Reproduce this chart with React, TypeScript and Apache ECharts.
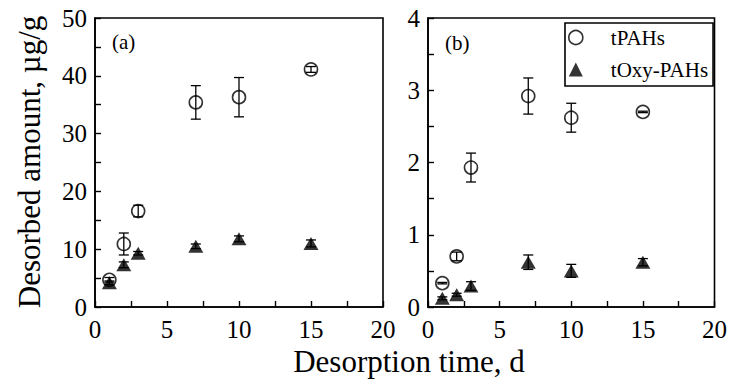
import React, { useEffect, useRef } from "react";
import * as echarts from "echarts";

const days = [1, 2, 3, 7, 10, 15];
const tPAHsA = [4.7, 10.9, 16.6, 35.4, 36.3, 41.1];
const tPAHsAErr = [0.4, 1.9, 1.0, 2.9, 3.4, 0.5];
const tOxyA = [4.2, 7.3, 9.3, 10.5, 11.8, 11.0];
const tOxyAErr = [0.3, 0.5, 0.3, 0.4, 0.5, 0.6];
const tPAHsB = [0.33, 0.7, 1.93, 2.92, 2.62, 2.7];
const tPAHsBErr = [0.01, 0.06, 0.2, 0.25, 0.2, 0.01];
const tOxyB = [0.12, 0.17, 0.29, 0.62, 0.5, 0.62];
const tOxyBErr = [0.02, 0.02, 0.06, 0.1, 0.09, 0.05];

const FONT = "Liberation Serif";

function pts(vals: number[]) {
  return days.map((d, i) => [d, vals[i]]);
}
function errs(vals: number[], e: number[]) {
  return days.map((d, i) => [d, vals[i] - e[i], vals[i] + e[i]]);
}

function errSeries(data: number[][], idx: number) {
  return {
    type: "custom",
    xAxisIndex: idx,
    yAxisIndex: idx,
    data,
    z: 1,
    encode: { x: 0, y: [1, 2] },
    renderItem: (_p: any, api: any) => {
      const x = api.value(0);
      const top = api.coord([x, api.value(2)]);
      const bot = api.coord([x, api.value(1)]);
      const w = 5;
      const st = { stroke: "#000", lineWidth: 1.3 };
      return {
        type: "group",
        children: [
          { type: "line", shape: { x1: top[0], y1: top[1], x2: bot[0], y2: bot[1] }, style: st },
          { type: "line", shape: { x1: top[0] - w, y1: top[1], x2: top[0] + w, y2: top[1] }, style: st },
          { type: "line", shape: { x1: bot[0] - w, y1: bot[1], x2: bot[0] + w, y2: bot[1] }, style: st },
        ],
      };
    },
  };
}

export default function App() {
  const ref = useRef<HTMLDivElement>(null);
  useEffect(() => {
    document.body.style.margin = "0";
    const chart = echarts.init(ref.current!, null, { renderer: "svg" });
    const axisLine = { lineStyle: { color: "#000", width: 1.6 } };
    const axisTick = { inside: true, length: 6, lineStyle: { color: "#000", width: 1.4 } };
    const labelStyle = { color: "#000", fontFamily: FONT, fontSize: 25 };
    const xAxis = (gi: number) => ({
      type: "value",
      gridIndex: gi,
      min: 0,
      max: 20,
      interval: 2.5,
      axisLine,
      axisTick,
      splitLine: { show: false },
      axisLabel: {
        ...labelStyle,
        margin: 10,
        formatter: (v: number) => (v % 5 === 0 ? String(v) : ""),
      },
    });
    const circleStyle = { color: "rgba(0,0,0,0)", borderColor: "#000", borderWidth: 1.6 };
    const triStyle = { color: "#000" };
    const scatter = (name: string, data: number[][], idx: number, tri: boolean) => ({
      type: "scatter",
      name,
      xAxisIndex: idx,
      yAxisIndex: idx,
      data,
      z: 3,
      symbol: tri ? "triangle" : "circle",
      symbolSize: tri ? [15, 13] : 13,
      itemStyle: tri ? triStyle : circleStyle,
    });
    chart.setOption({
      animation: false,
      backgroundColor: "#fff",
      textStyle: { fontFamily: FONT },
      grid: [
        { left: 95, top: 18, width: 288, height: 289, show: true, borderColor: "#000", borderWidth: 1.6 },
        { left: 428, top: 18, width: 287, height: 289, show: true, borderColor: "#000", borderWidth: 1.6 },
      ],
      xAxis: [xAxis(0), xAxis(1)],
      yAxis: [
        {
          type: "value",
          gridIndex: 0,
          min: 0,
          max: 50,
          interval: 5,
          axisLine,
          axisTick,
          splitLine: { show: false },
          axisLabel: { ...labelStyle, margin: 8, formatter: (v: number) => (v % 10 === 0 ? String(v) : "") },
        },
        {
          type: "value",
          gridIndex: 1,
          min: 0,
          max: 4,
          interval: 0.5,
          axisLine,
          axisTick,
          splitLine: { show: false },
          axisLabel: { ...labelStyle, margin: 8, formatter: (v: number) => (v % 1 === 0 ? String(v) : "") },
        },
      ],
      legend: {
        orient: "vertical",
        left: 565,
        top: 23,
        padding: [4, 5, 6, 3],
        itemWidth: 14,
        itemHeight: 14,
        itemGap: 11,
        backgroundColor: "#fff",
        borderColor: "#000",
        borderWidth: 1.6,
        borderRadius: 0,
        textStyle: { color: "#000", fontFamily: FONT, fontSize: 21, padding: [0, 0, 0, 23] },
        data: [
          { name: "tPAHs", icon: "circle", itemStyle: circleStyle },
          { name: "tOxy-PAHs", icon: "triangle", itemStyle: triStyle },
        ],
      },
      graphic: [
        { type: "text", x: 112, y: 42, style: { text: "(a)", font: `21px ${FONT}`, fill: "#000", verticalAlign: "middle" } },
        { type: "text", x: 445, y: 43, style: { text: "(b)", font: `21px ${FONT}`, fill: "#000", verticalAlign: "middle" } },
        {
          type: "text",
          x: 409,
          y: 361,
          style: { text: "Desorption time, d", font: `31px ${FONT}`, fill: "#000", align: "center", verticalAlign: "middle" },
        },
        {
          type: "text",
          x: 29,
          y: 162,
          rotation: Math.PI / 2,
          style: { text: "Desorbed amount, µg/g", font: `31px ${FONT}`, fill: "#000", align: "center", verticalAlign: "middle" },
        },
      ],
      series: [
        errSeries(errs(tPAHsA, tPAHsAErr), 0),
        errSeries(errs(tOxyA, tOxyAErr), 0),
        errSeries(errs(tPAHsB, tPAHsBErr), 1),
        errSeries(errs(tOxyB, tOxyBErr), 1),
        scatter("tPAHs", pts(tPAHsA), 0, false),
        scatter("tOxy-PAHs", pts(tOxyA), 0, true),
        scatter("tPAHs", pts(tPAHsB), 1, false),
        scatter("tOxy-PAHs", pts(tOxyB), 1, true),
      ],
    });
    return () => chart.dispose();
  }, []);
  return (
    <div
      ref={ref}
      style={{ width: 730, height: 379, position: "fixed", left: 0, top: 0 }}
    />
  );
}
